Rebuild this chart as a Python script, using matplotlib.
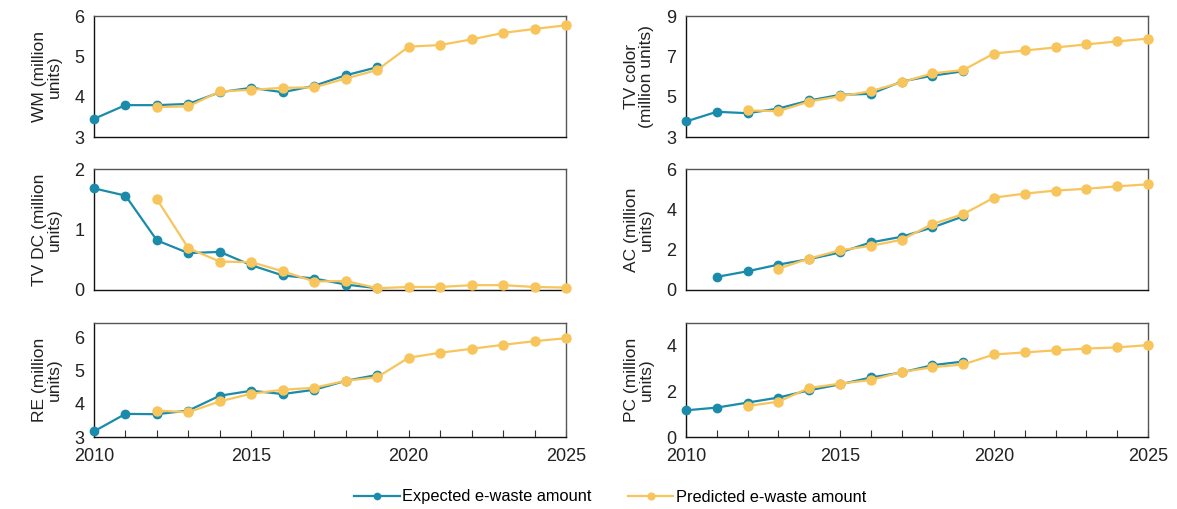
import matplotlib.pyplot as plt
import numpy as np

plt.rcParams['font.family'] = ['Liberation Sans', 'DejaVu Sans']

# ---------------------------------------------------------------
# Data (million units)
# ---------------------------------------------------------------
years_exp = np.arange(2010, 2020)
years_pred = np.arange(2012, 2026)

wm_exp = [3.45, 3.79, 3.79, 3.82, 4.11, 4.22, 4.11, 4.27, 4.53, 4.73]
wm_pred = [3.74, 3.76, 4.13, 4.17, 4.22, 4.23, 4.45, 4.66,
           5.24, 5.28, 5.42, 5.58, 5.68, 5.77]

tvc_exp = [3.77, 4.25, 4.18, 4.41, 4.81, 5.09, 5.14, 5.75, 6.04, 6.26]
tvc_pred = [4.32, 4.28, 4.76, 5.02, 5.27, 5.71, 6.16, 6.32,
            7.14, 7.29, 7.44, 7.59, 7.74, 7.88]

tvdc_exp = [1.68, 1.56, 0.82, 0.61, 0.63, 0.41, 0.24, 0.19, 0.09, 0.03]
tvdc_pred = [1.50, 0.69, 0.47, 0.46, 0.31, 0.14, 0.15, 0.03,
             0.05, 0.05, 0.08, 0.08, 0.05, 0.04]

ac_years_exp = np.arange(2011, 2020)
ac_exp = [0.65, 0.93, 1.26, 1.53, 1.86, 2.36, 2.64, 3.10, 3.65]
ac_years_pred = np.arange(2013, 2026)
ac_pred = [1.06, 1.56, 1.97, 2.19, 2.49, 3.27, 3.76,
           4.58, 4.78, 4.93, 5.02, 5.14, 5.24]

re_exp = [3.17, 3.70, 3.69, 3.80, 4.25, 4.40, 4.30, 4.43, 4.70, 4.88]
re_pred = [3.80, 3.75, 4.08, 4.31, 4.43, 4.49, 4.70, 4.81,
           5.40, 5.55, 5.67, 5.79, 5.90, 5.99]

pc_exp = [1.17, 1.29, 1.51, 1.73, 2.05, 2.31, 2.61, 2.83, 3.15, 3.31]
pc_pred = [1.36, 1.55, 2.15, 2.34, 2.50, 2.85, 3.06, 3.18,
           3.62, 3.71, 3.80, 3.88, 3.93, 4.03]

# ylabel, (x_exp, y_exp), (x_pred, y_pred), ylim, yticks
panels = [
    ('WM (million\nunits)', (years_exp, wm_exp), (years_pred, wm_pred),
     (3, 6), [3, 4, 5, 6]),
    ('TV color\n(million units)', (years_exp, tvc_exp), (years_pred, tvc_pred),
     (3, 9), [3, 5, 7, 9]),
    ('TV DC (million\nunits)', (years_exp, tvdc_exp), (years_pred, tvdc_pred),
     (0, 2), [0, 1, 2]),
    ('AC (million\nunits)', (ac_years_exp, ac_exp), (ac_years_pred, ac_pred),
     (0, 6), [0, 2, 4, 6]),
    ('RE (million\nunits)', (years_exp, re_exp), (years_pred, re_pred),
     (3, 6.45), [3, 4, 5, 6]),
    ('PC (million\nunits)', (years_exp, pc_exp), (years_pred, pc_pred),
     (0, 5), [0, 2, 4]),
]

blue = '#1A8BAA'
yellow = '#F7C55C'

fig = plt.figure(figsize=(11.77, 5.09), dpi=100)

W, H = 1177, 509
cols = [(94, 566), (686, 1148)]
rows = [(16, 137), (169, 290), (323, 437)]

for i, (ylabel, exp, pred, ylim, yticks) in enumerate(panels):
    r, c = divmod(i, 2)
    x0, x1 = cols[c]
    y0, y1 = rows[r]
    ax = fig.add_axes([x0 / W, 1 - y1 / H, (x1 - x0) / W, (y1 - y0) / H])

    ax.plot(exp[0], exp[1], color=blue, lw=1.6, marker='o', ms=6,
            clip_on=False, zorder=3, label='Expected e-waste amount')
    ax.plot(pred[0], pred[1], color=yellow, lw=1.6, marker='o', ms=6.5,
            clip_on=False, zorder=4, label='Predicted e-waste amount')

    ax.set_xlim(2010, 2025)
    ax.set_ylim(*ylim)
    ax.set_yticks(yticks)
    ax.tick_params(axis='y', length=0, labelsize=13, pad=7, colors='#222222')
    if r == 2:
        ax.set_xticks(np.arange(2010, 2026))
        ax.set_xticklabels([str(y) if y % 5 == 0 else '' for y in range(2010, 2026)])
        ax.tick_params(axis='x', direction='in', length=5, labelsize=13,
                       pad=8, colors='#222222', color='#333333')
    else:
        ax.set_xticks([])

    for name, sp in ax.spines.items():
        sp.set_linewidth(1.0)
        sp.set_color('#111111' if name in ('left', 'bottom') else '#555555')

    ax.set_ylabel(ylabel, fontsize=12.5, color='#222222', labelpad=9,
                  linespacing=1.0)

handles, labels = ax.get_legend_handles_labels()
fig.legend(handles, labels, loc='center', bbox_to_anchor=(610 / W, 1 - 497 / H),
           ncol=2, frameon=False, fontsize=11.8, handlelength=2.8,
           columnspacing=2.2, handletextpad=0.15, markerscale=0.75)

fig.savefig('out.png', dpi=100)
